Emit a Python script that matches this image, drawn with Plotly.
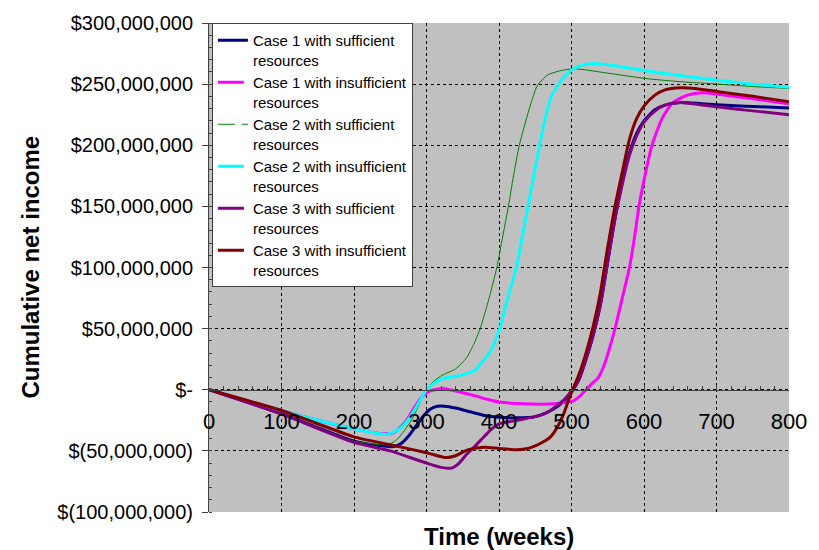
import plotly.graph_objects as go

# ---------------- data (values in millions of $) ----------------
weeks_c1s = [0, 100, 200, 240, 255, 265, 275, 285, 295, 305, 315, 325, 340, 360, 380, 400, 425, 450, 465, 480,
             490, 500, 510, 520, 530, 540, 550, 560, 570, 580, 590, 600, 615, 630, 650, 680, 720, 760, 800]
vals_c1s = [0, -19.5, -42, -46, -46.5, -44, -38, -30, -22, -16, -13.5, -13.5, -15, -18, -21, -22.5, -23, -22, -19, -14,
            -9, -2, 8, 25, 45, 70, 105, 140, 170, 194, 210, 220, 229, 233, 235, 234, 232.5, 231.5, 230.5]

weeks_c1i = [0, 100, 150, 200, 240, 255, 270, 285, 295, 305, 322, 340, 367, 385, 400, 435, 476, 490, 503, 512,
             520, 530, 537, 545, 553, 560, 570, 580, 587, 593, 602, 611, 625, 640, 660, 680, 700, 750, 800]
vals_c1i = [0, -17, -25, -32, -36, -35, -27, -13, -5, -1, 1, -1, -5, -8, -10, -11.5, -11.5, -10.5, -9, -5,
            0, 6, 10, 20, 35, 50, 75, 100, 125, 150, 177, 200, 222, 235, 241, 243, 242, 238, 234]

weeks_c2s = [0, 100, 200, 240, 250, 259, 270, 280, 290, 300, 310, 322, 340, 355, 365, 374, 385, 397, 405, 413,
             420, 428, 437, 446, 453, 467, 485, 503, 550, 602, 650, 702, 750, 800]
vals_c2s = [0, -19.5, -42, -45, -44, -41, -33, -24, -12, 0, 7, 12, 17, 26, 37, 50, 72, 100, 125, 150,
            175, 200, 220, 238, 249, 257.5, 261, 262.6, 259, 254.6, 252, 250, 248, 246.5]

weeks_c2i = [0, 100, 150, 200, 225, 245, 260, 270, 280, 290, 300, 310, 322, 340, 354, 367, 376, 388, 401, 412,
             424, 432, 440, 448, 456, 463, 471, 480, 490, 503, 515, 526, 540, 560, 602, 650, 702, 750, 800]
vals_c2i = [0, -17, -25, -32, -35, -36.5, -33, -28, -20, -10, 0, 5, 9, 11, 13, 16, 22, 31, 50, 75,
            100, 125, 150, 175, 200, 220, 238, 248, 256, 262.5, 265.5, 266.7, 266.5, 265, 261, 257, 253, 250, 247.5]

weeks_c3s = [0, 100, 200, 250, 275, 300, 320, 335, 345, 355, 367, 380, 390, 400, 425, 450, 465, 480, 490, 500,
             510, 520, 530, 540, 550, 560, 570, 580, 590, 600, 615, 630, 650, 680, 720, 760, 800]
vals_c3s = [0, -20, -43, -50, -55, -60, -63.5, -64, -60, -53, -46, -38, -32, -28, -25, -22, -19, -13, -8, -1,
            8, 25, 45, 70, 105, 140, 168, 192, 208, 219, 228, 233, 235, 233, 230, 227.5, 225]

weeks_c3i = [0, 100, 200, 250, 300, 327, 340, 350, 358, 380, 400, 425, 440, 450, 460, 471, 480, 489, 495, 503,
             510, 520, 530, 540, 550, 560, 570, 580, 590, 600, 615, 630, 650, 670, 700, 750, 800]
vals_c3i = [0, -17, -38.5, -45, -51.5, -55.5, -54, -51, -49, -47, -48, -49, -48, -46, -43, -38.5, -31, -20, -10, 2,
            12, 30, 52, 80, 117, 150, 178, 205, 222, 232, 241, 245.5, 247, 246.5, 244, 240, 235.5]

series_names = ["Case 1 with sufficient<br>resources", "Case 1 with insufficient<br>resources",
                "Case 2 with sufficient<br>resources", "Case 2 with insufficient<br>resources",
                "Case 3 with sufficient<br>resources", "Case 3 with insufficient<br>resources"]

y_tickvals = [-100, -50, 0, 50, 100, 150, 200, 250, 300]
y_ticktext = ["$(100,000,000)", "$(50,000,000)", "$-", "$50,000,000", "$100,000,000",
              "$150,000,000", "$200,000,000", "$250,000,000", "$300,000,000"]
x_tickvals = [0, 100, 200, 300, 400, 500, 600, 700, 800]

# ---------------- styles ----------------
colors = ["#000080", "#FF00FF", "#008000", "#00FFFF", "#800080", "#800000"]
widths = [3, 3, 1, 3, 3, 3]
legend_dash = ["solid", "26px,6px,8px,6px", "17px,7px", "26px,6px,8px,6px", "26px,6px,8px,6px", "26px,6px,8px,6px"]

all_weeks = [weeks_c1s, weeks_c1i, weeks_c2s, weeks_c2i, weeks_c3s, weeks_c3i]
all_vals = [vals_c1s, vals_c1i, vals_c2s, vals_c2i, vals_c3s, vals_c3i]

FONT = "Liberation Sans, Arial, sans-serif"
ymin, ymax = -100, 300

fig = go.Figure()
for i in range(6):
    fig.add_trace(go.Scatter(x=all_weeks[i], y=all_vals[i], mode="lines", name=series_names[i],
                             line=dict(color=colors[i], width=widths[i], shape="spline", smoothing=0.6),
                             showlegend=False))
# legend entries (dash styles as in the reference legend)
for i in range(6):
    fig.add_trace(go.Scatter(x=[None], y=[None], mode="lines", name=series_names[i],
                             line=dict(color=colors[i], width=widths[i], dash=legend_dash[i]),
                             showlegend=True))

fig.update_layout(
    width=819, height=550,
    margin=dict(l=209, r=20, t=16, b=38),
    paper_bgcolor="white", plot_bgcolor="#C0C0C0",
    font=dict(family=FONT, color="black"),
    showlegend=True,
    legend=dict(x=0.005, y=1.0, xanchor="left", yanchor="top",
                bgcolor="white", bordercolor="#404040", borderwidth=1,
                font=dict(family=FONT, size=15, color="black"),
                valign="top", tracegroupgap=0, itemwidth=30),
    xaxis=dict(range=[0, 800], tickvals=x_tickvals, showgrid=True, gridcolor="black",
               griddash="3px,3px", gridwidth=1, showline=True, linecolor="#404040", linewidth=1,
               ticks="inside", ticklen=5, tickcolor="#404040",
               minor=dict(dtick=20, tick0=0, ticks="inside", ticklen=4, tickcolor="#404040", showgrid=False),
               anchor="free", position=(0 - ymin) / (ymax - ymin), zeroline=False,
               tickfont=dict(family=FONT, size=22, color="black"), ticklabelstandoff=12),
    yaxis=dict(range=[ymin, ymax], tickvals=y_tickvals, ticktext=y_ticktext, showgrid=True,
               gridcolor="black", griddash="3px,3px", gridwidth=1, showline=True,
               linecolor="#404040", linewidth=1, ticks="outside", ticklen=6, tickcolor="#404040",
               minor=dict(dtick=10, tick0=0, ticks="inside", ticklen=3, tickcolor="#404040", showgrid=False),
               zeroline=False, tickfont=dict(family=FONT, size=20, color="black"), ticklabelstandoff=5),
    annotations=[
        dict(text="<b>Time (weeks)</b>", xref="paper", yref="paper", x=0.5, y=-0.05,
             xanchor="center", yanchor="middle", showarrow=False, font=dict(family=FONT, size=24, color="black")),
        dict(text="<b>Cumulative net income</b>", xref="paper", yref="paper", x=-0.3085, y=0.5,
             xanchor="center", yanchor="middle", textangle=-90, showarrow=False,
             font=dict(family=FONT, size=24, color="black")),
    ],
)

fig.write_html("out.html")
